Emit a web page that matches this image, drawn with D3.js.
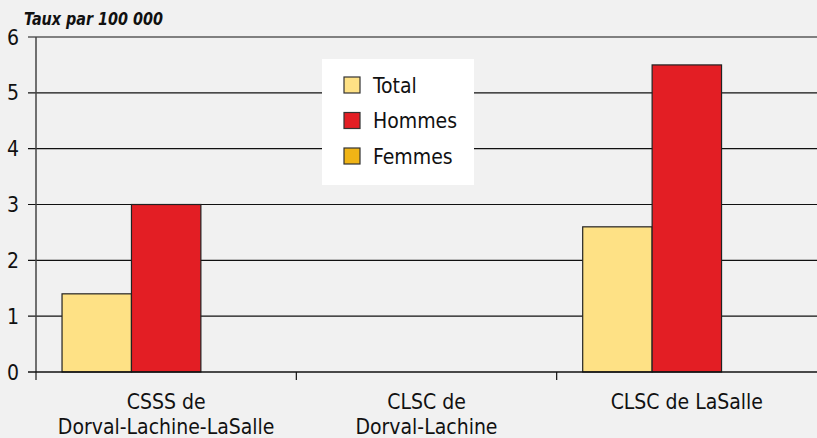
<!DOCTYPE html>
<html>
<head>
<meta charset="utf-8">
<script src="https://cdn.jsdelivr.net/npm/d3@7"></script>
<style>
  body { margin: 0; background: #f1f1f1; }
  svg { display: block; font-family: "DejaVu Sans Condensed", "Liberation Sans Narrow", sans-serif; }
</style>
</head>
<body>
<svg width="817" height="438"></svg>
<script>
var categories = [["CSSS de", "Dorval-Lachine-LaSalle"], ["CLSC de", "Dorval-Lachine"], ["CLSC de LaSalle"]]
var seriesNames = ["Total", "Hommes", "Femmes"]
var total = [1.4, 0, 2.6]
var hommes = [3.0, 0, 5.5]
var femmes = [0, 0, 0]
var yTicks = [0, 1, 2, 3, 4, 5, 6]
var colors = ["#fee185", "#e31e24", "#f0b416"]

var series = [total, hommes, femmes]

var svg = d3.select("svg")
svg.append("rect").attr("width", 817).attr("height", 438).attr("fill", "#f1f1f1")

var mLeft = 36, mRight = 817, mTop = 37, mBottom = 372

var x = d3.scaleBand().domain(d3.range(categories.length)).range([mLeft, mRight])
var xi = d3.scaleBand().domain(d3.range(series.length)).range([0, x.bandwidth()]).paddingOuter(0.375).paddingInner(0)
var y = d3.scaleLinear().domain([0, 6]).range([mBottom, mTop])

// grille horizontale
svg.append("g").selectAll("line").data(yTicks.filter(d => d > 0)).enter().append("line")
    .attr("x1", 28).attr("x2", mRight).attr("y1", d => y(d)).attr("y2", d => y(d))
    .attr("stroke", "#111").attr("stroke-width", 1.2)

// barres
series.forEach(function (s, i) {
    svg.append("g").selectAll("rect").data(s).enter().append("rect")
        .attr("x", (d, j) => x(j) + xi(i))
        .attr("y", d => y(d))
        .attr("width", xi.bandwidth())
        .attr("height", d => y(0) - y(d))
        .attr("fill", colors[i])
        .attr("stroke", "#222").attr("stroke-width", 1.2)
})

// axes
svg.append("line").attr("x1", mLeft).attr("x2", mLeft).attr("y1", mTop).attr("y2", mBottom + 8)
    .attr("stroke", "#444").attr("stroke-width", 1.5)
svg.append("line").attr("x1", 28).attr("x2", mRight).attr("y1", mBottom).attr("y2", mBottom)
    .attr("stroke", "#111").attr("stroke-width", 1.5)

svg.append("g").selectAll("text").data(yTicks).enter().append("text")
    .attr("x", 19).attr("y", d => y(d)).attr("dy", "0.36em")
    .attr("text-anchor", "end").attr("font-size", 21).attr("fill", "#111")
    .text(d => d)

svg.append("g").selectAll("line").data(d3.range(1, categories.length)).enter().append("line")
    .attr("x1", d => x(d)).attr("x2", d => x(d)).attr("y1", mBottom).attr("y2", mBottom + 8)
    .attr("stroke", "#111").attr("stroke-width", 1.2)

var lab = svg.append("g").selectAll("text").data(categories).enter().append("text")
    .attr("x", (d, j) => x(j) + x.bandwidth() / 2).attr("y", 409)
    .attr("text-anchor", "middle").attr("font-size", 21).attr("fill", "#111")
lab.selectAll("tspan").data(d => d).enter().append("tspan")
    .attr("x", function () { return d3.select(this.parentNode).attr("x") })
    .attr("dy", (d, k) => k ? 25 : 0)
    .text(d => d)

// titre
svg.append("text").attr("x", 24).attr("y", 25)
    .attr("font-size", 18).attr("font-weight", "bold").attr("font-style", "italic")
    .attr("textLength", 139).attr("lengthAdjust", "spacingAndGlyphs")
    .attr("fill", "#111").text("Taux par 100 000")

// légende
var lg = svg.append("g").attr("transform", "translate(322,59)")
lg.append("rect").attr("width", 152).attr("height", 126).attr("fill", "#fff")
seriesNames.forEach(function (n, i) {
    lg.append("rect").attr("x", 22).attr("y", 18 + i * 35.5).attr("width", 16).attr("height", 16)
        .attr("fill", colors[i]).attr("stroke", "#333").attr("stroke-width", 1.2)
    lg.append("text").attr("x", 51).attr("y", 26 + i * 35.5).attr("dy", "0.36em")
        .attr("font-size", 21).attr("fill", "#111").text(n)
})
</script>
</body>
</html>
